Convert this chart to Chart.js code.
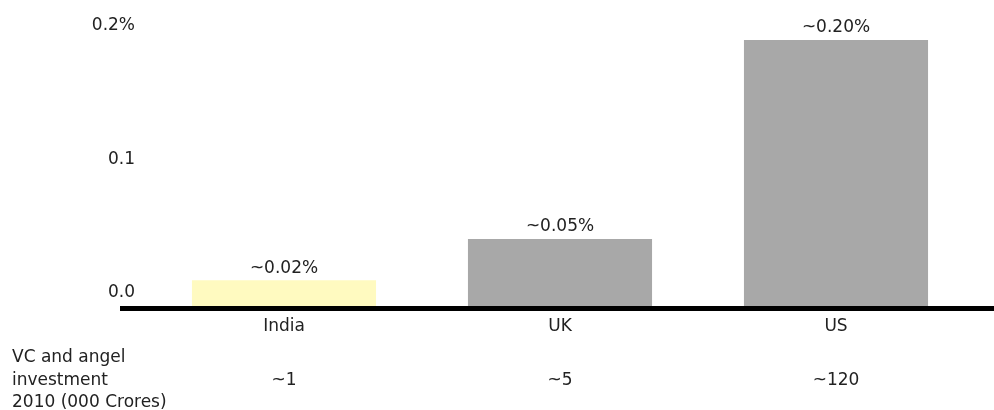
<!DOCTYPE html>
<html>
<head>
<meta charset="utf-8">
<script src="https://cdn.jsdelivr.net/npm/chart.js"></script>
<style>
html,body{margin:0;padding:0;background:#fff;}
#wrap{width:994px;height:410px;position:relative;}
</style>
</head>
<body>
<div id="wrap"><canvas id="chart"></canvas></div>
<script>
const countries = ["India", "UK", "US"];
const shareValues = [0.02, 0.051, 0.2];
const shareLabels = ["~0.02%", "~0.05%", "~0.20%"];
const investment = ["~1", "~5", "~120"];
const investmentTitle = ["VC and angel", "investment", "2010 (000 Crores)"];
const yTicks = {0: "0.0", 0.1: "0.1", 0.2: "0.2%"};
const barColors = ["#fffac0", "#a8a8a8", "#a8a8a8"];

const FONT = "'DejaVu Sans', sans-serif";
const TEXT = "#222";

// bar value labels, baseline line and the bottom row
const extras = {
  id: "extras",
  afterDatasetsDraw(chart){
    const ctx = chart.ctx;
    const x = chart.scales.x;
    const y = chart.scales.y;
    ctx.save();
    ctx.font = "17px " + FONT;
    ctx.fillStyle = TEXT;
    ctx.textAlign = "center";
    ctx.textBaseline = "middle";
    chart.getDatasetMeta(0).data.forEach((bar, i) => {
      ctx.fillText(shareLabels[i], bar.x, bar.y - 12);
    });

    // thick baseline
    const y0 = y.getPixelForValue(0);
    ctx.fillStyle = "#000";
    ctx.fillRect(120, y0 - 1, 994 - 120, 5);

    ctx.fillStyle = TEXT;
    investment.forEach((t, i) => {
      ctx.fillText(t, x.getPixelForValue(i), 381);
    });
    ctx.textAlign = "left";
    investmentTitle.forEach((t, i) => {
      ctx.fillText(t, 12, 358 + i * 22.5);
    });
    ctx.restore();
  }
};

new Chart(document.getElementById("chart"), {
  type: "bar",
  data: {
    labels: countries,
    datasets: [{
      data: shareValues,
      backgroundColor: barColors,
      barPercentage: 1,
      categoryPercentage: 0.667,
      borderWidth: 0
    }]
  },
  options: {
    responsive: true,
    maintainAspectRatio: false,
    animation: false,
    layout: {padding: {top: 40, right: 20, left: 0, bottom: 0}},
    plugins: {legend: {display: false}, tooltip: {enabled: false}},
    scales: {
      x: {
        grid: {display: false, drawTicks: false},
        border: {display: false},
        ticks: {color: TEXT, font: {family: FONT, size: 17}, padding: 9},
        afterFit(scale){ scale.height = 103; }
      },
      y: {
        min: 0,
        max: 0.2,
        grid: {display: false, drawTicks: false},
        border: {display: false},
        ticks: {
          stepSize: 0.1,
          color: TEXT,
          font: {family: FONT, size: 17},
          padding: 11,
          labelOffset: -14,
          callback: v => yTicks[Math.round(v * 10) / 10]
        },
        afterFit(scale){ scale.width = 146; }
      }
    }
  },
  plugins: [extras]
});
</script>
</body>
</html>
